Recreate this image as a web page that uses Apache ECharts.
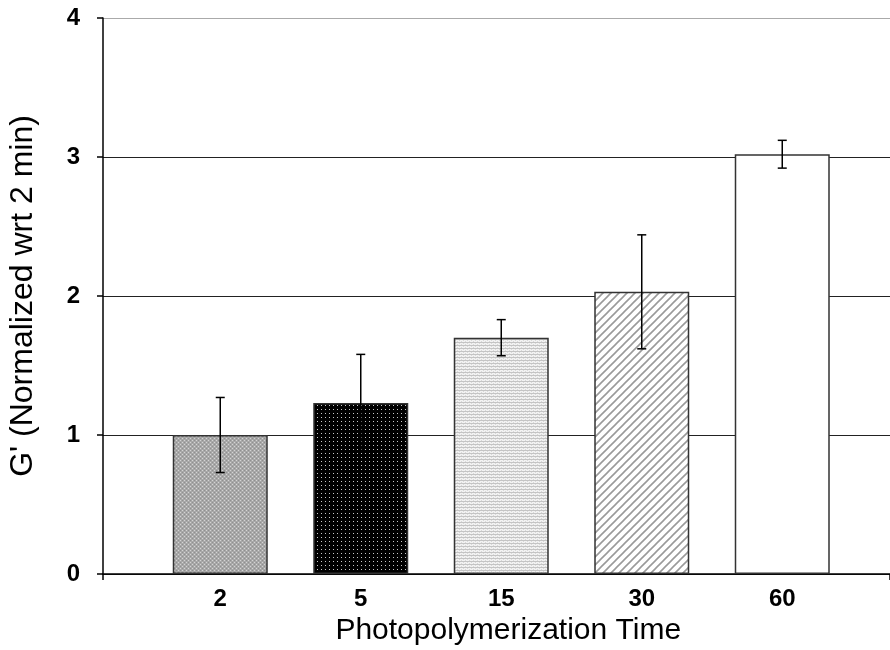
<!DOCTYPE html>
<html>
<head>
<meta charset="utf-8">
<script src="https://cdn.jsdelivr.net/npm/echarts@6/dist/echarts.min.js"></script>
<style>
  html, body { margin: 0; padding: 0; background: #fff; }
  #chart { width: 890px; height: 650px; }
</style>
</head>
<body>
<div id="chart"></div>
<script>
// data
var categories = ['2', '5', '15', '30', '60'];
var meanValues = [1.00, 1.23, 1.70, 2.03, 3.02];
var errValues = [0.27, 0.35, 0.13, 0.41, 0.10];
var yTicks = [0, 1, 2, 3, 4];

var FONT = "'Liberation Sans', Arial, sans-serif";

// fill patterns (one per bar)
function makeTile(w, h, draw) {
  var c = document.createElement('canvas');
  c.width = w;
  c.height = h;
  draw(c.getContext('2d'), w, h);
  return c;
}

var greyDots = makeTile(4, 4, function(ctx) {
  ctx.fillStyle = '#a8a8a8';
  ctx.fillRect(0, 0, 4, 4);
  ctx.fillStyle = '#d4d4d4';
  ctx.fillRect(0, 0, 1, 1);
  ctx.fillRect(2, 2, 1, 1);
  ctx.fillStyle = '#909090';
  ctx.fillRect(2, 0, 1, 1);
  ctx.fillRect(0, 2, 1, 1);
});

var blackDots = makeTile(4, 4, function(ctx) {
  ctx.fillStyle = '#000';
  ctx.fillRect(0, 0, 4, 4);
  ctx.fillStyle = '#c8c8c8';
  ctx.fillRect(1, 1, 1, 1);
});

var hLines = makeTile(4, 3, function(ctx) {
  ctx.fillStyle = '#f2f2f2';
  ctx.fillRect(0, 0, 4, 3);
  ctx.fillStyle = '#c4c4c4';
  ctx.fillRect(0, 0, 4, 1);
  ctx.fillStyle = '#d8d8d8';
  ctx.fillRect(1, 2, 1, 1);
  ctx.fillRect(3, 1, 1, 1);
});

var diagLines = makeTile(8, 8, function(ctx) {
  ctx.fillStyle = '#fff';
  ctx.fillRect(0, 0, 8, 8);
  ctx.strokeStyle = '#9a9a9a';
  ctx.lineWidth = 1.6;
  ctx.beginPath();
  ctx.moveTo(-1, 9); ctx.lineTo(9, -1);
  ctx.moveTo(-5, 5); ctx.lineTo(5, -5);
  ctx.moveTo(3, 13); ctx.lineTo(13, 3);
  ctx.stroke();
});

var fills = [
  { image: greyDots, repeat: 'repeat' },
  { image: blackDots, repeat: 'repeat' },
  { image: hLines, repeat: 'repeat' },
  { image: diagLines, repeat: 'repeat' },
  '#ffffff'
];

var barData = meanValues.map(function(v, i) {
  return { value: v, itemStyle: { color: fills[i] } };
});

var errData = meanValues.map(function(v, i) {
  return [i, v - errValues[i], v + errValues[i]];
});

var myChart = echarts.init(document.getElementById('chart'), null, { renderer: 'canvas' });

var option = {
  backgroundColor: '#fff',
  animation: false,
  grid: [
    // frame: y axis, gridlines, base line
    { left: 103, right: 0, top: 18, bottom: 76, containLabel: false, outerBoundsMode: 'none' },
    // bars
    { left: 150, right: 37.5, top: 18, bottom: 76, containLabel: false, outerBoundsMode: 'none' }
  ],
  xAxis: [{
    gridIndex: 0,
    type: 'value',
    min: 0,
    max: 1,
    interval: 1,
    axisLine: { show: true, lineStyle: { color: '#000', width: 1.5 } },
    axisTick: { show: true, length: 6, lineStyle: { color: '#000', width: 1.5 } },
    axisLabel: { show: false },
    splitLine: { show: false }
  }, {
    gridIndex: 1,
    type: 'category',
    data: categories,
    axisLine: { show: false },
    axisTick: { show: false },
    axisLabel: {
      margin: 13,
      color: '#000',
      fontFamily: FONT,
      fontWeight: 'bold',
      fontSize: 24
    },
    name: 'Photopolymerization Time',
    nameLocation: 'middle',
    nameGap: 40,
    nameTextStyle: {
      color: '#000',
      fontFamily: FONT,
      fontSize: 30,
      padding: [0, 0, 0, 14]
    }
  }],
  yAxis: [{
    gridIndex: 0,
    type: 'value',
    min: yTicks[0],
    max: yTicks[yTicks.length - 1],
    interval: 1,
    axisLine: { show: true, lineStyle: { color: '#000', width: 1.5 } },
    axisTick: { show: true, length: 6, lineStyle: { color: '#000', width: 1.5 } },
    axisLabel: {
      margin: 23,
      color: '#000',
      fontFamily: FONT,
      fontWeight: 'bold',
      fontSize: 24
    },
    splitLine: {
      show: true,
      lineStyle: { color: ['#222', '#222', '#222', '#222', '#aaaaaa'], width: 1.2 }
    },
    name: "G' (Normalized wrt 2 min)",
    nameLocation: 'middle',
    nameGap: 64,
    nameRotate: 90,
    nameTextStyle: {
      color: '#000',
      fontFamily: FONT,
      fontSize: 32
    }
  }, {
    gridIndex: 1,
    type: 'value',
    min: yTicks[0],
    max: yTicks[yTicks.length - 1],
    show: false
  }],
  series: [{
    type: 'bar',
    xAxisIndex: 1,
    yAxisIndex: 1,
    barWidth: 95,
    data: barData,
    itemStyle: { borderColor: '#333', borderWidth: 1.5 },
    z: 3
  }, {
    type: 'custom',
    xAxisIndex: 1,
    yAxisIndex: 1,
    data: errData,
    z: 5,
    renderItem: function(params, api) {
      var lo = api.coord([api.value(0), api.value(1)]);
      var hi = api.coord([api.value(0), api.value(2)]);
      var cap = 4.5;
      var style = { stroke: '#000', lineWidth: 1.5 };
      return {
        type: 'group',
        children: [
          { type: 'line', shape: { x1: hi[0], y1: hi[1], x2: lo[0], y2: lo[1] }, style: style },
          { type: 'line', shape: { x1: hi[0] - cap, y1: hi[1], x2: hi[0] + cap, y2: hi[1] }, style: style },
          { type: 'line', shape: { x1: lo[0] - cap, y1: lo[1], x2: lo[0] + cap, y2: lo[1] }, style: style }
        ]
      };
    }
  }]
};

myChart.setOption(option);
</script>
</body>
</html>
